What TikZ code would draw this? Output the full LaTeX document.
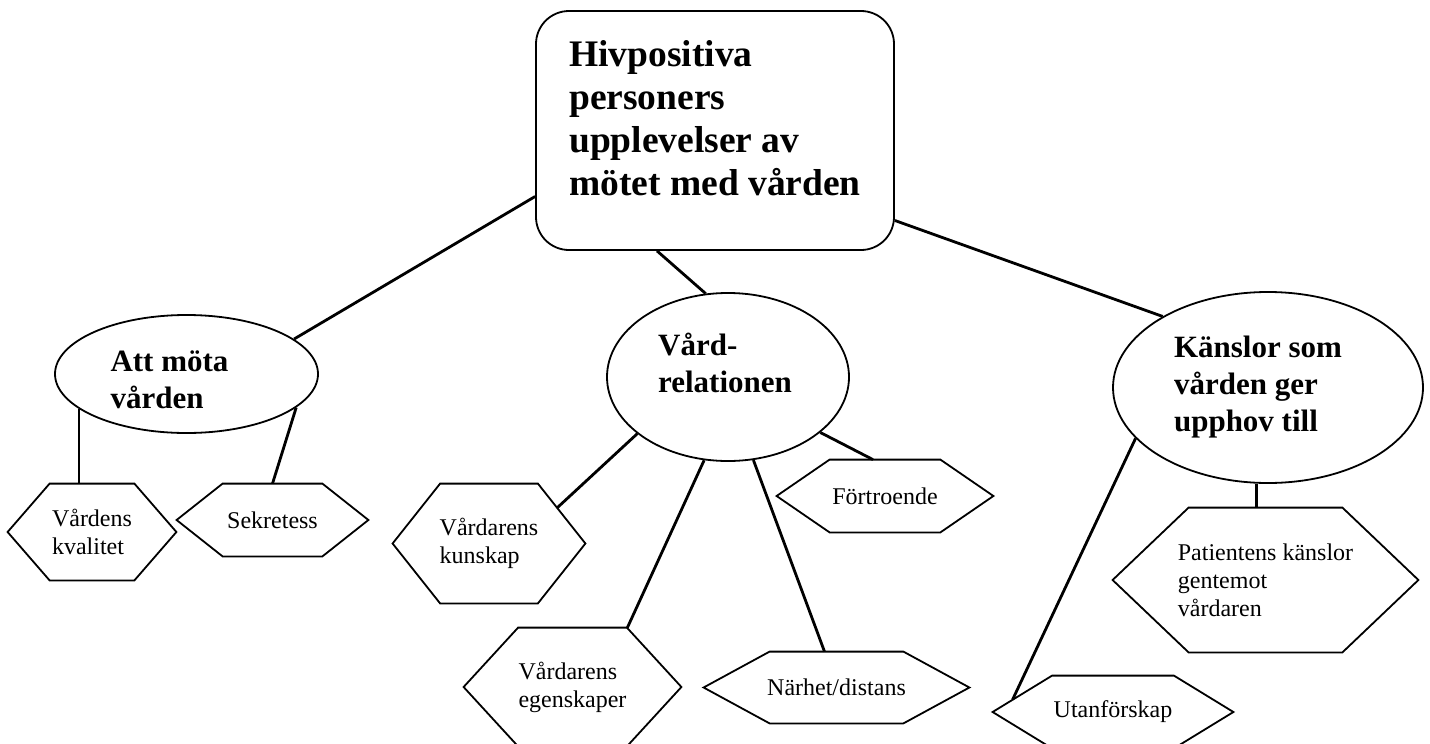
\documentclass[tikz,border=0pt]{standalone}
\usepackage{fontspec}
\setmainfont{Liberation Serif}
\usetikzlibrary{shapes.geometric}

% outline of a stretched hexagon round a (rectangular) node; #2 = width of the slanted part
\newcommand{\hexagon}[2]{%
  \draw[hex_line] (#1.west) -- ([xshift=#2]#1.north west) -- ([xshift=-#2]#1.north east)
    -- (#1.east) -- ([xshift=-#2]#1.south east) -- ([xshift=#2]#1.south west) -- cycle;}

\begin{document}
\begin{tikzpicture}[
                    x=0.5pt, y=-0.5pt,
                    root_box/.style={rectangle, rounded corners=16.5pt, draw=black, line width=0.9pt, inner sep=0pt},
                    root_text/.style={inner sep=0pt, align=left, font=\fontsize{18.75}{21.5}\selectfont\bfseries},
                    theme_node/.style={ellipse, draw=black, line width=0.9pt, inner sep=0pt},
                    theme_text/.style={inner sep=0pt, align=left, font=\fontsize{15.5}{18.5}\selectfont\bfseries},
                    sub_node/.style={rectangle, inner sep=0pt, align=left, font=\fontsize{12}{14}\selectfont},
                    hex_line/.style={draw=black, line width=0.9pt},
                    link_line/.style={draw=black, line width=1.4pt}
                ]
                    \path[use as bounding box, fill=white] (0,0) rectangle (1430,744);

                    % main theme
                    \node[root_box, minimum width=179pt, minimum height=119.5pt] (root) at (715,130.5) {};
                    \node[root_text] (root_title) at ([yshift=6pt]root.center) {Hivpositiva\\personers\\upplevelser av\\mötet med vården};

                    % themes
                    \node[theme_node, minimum width=131.5pt, minimum height=59pt] (att) at (186.5,374) {};
                    \node[theme_text] (att_text) at ([xshift=-8.5pt, yshift=-3pt]att.center) {Att möta\\vården};
                    \node[theme_node, minimum width=121pt, minimum height=84pt] (vard) at (728,377) {};
                    \node[theme_text] (vard_text) at ([xshift=-1.5pt, yshift=7pt]vard.center) {Vård-\\relationen};
                    \node[theme_node, minimum width=155pt, minimum height=95.5pt] (kansl) at (1268,387.5) {};
                    \node[theme_text] (kansl_text) at ([xshift=-5pt]kansl.center) {Känslor som\\vården ger\\upphov till};

                    % sub-themes
                    \node[sub_node, minimum width=84pt, minimum height=48pt] (kval) at (92,532) {Vårdens\\kvalitet};
                    \node[sub_node, minimum width=95.5pt, minimum height=36pt] (sekr) at (272.5,520) {Sekretess};
                    \node[sub_node, minimum width=96pt, minimum height=59.5pt] (kunsk) at (489,543.5) {Vårdarens\\kunskap};
                    \node[sub_node, minimum width=108.5pt, minimum height=59pt] (egensk) at (572.5,687) {Vårdarens\\egenskaper};
                    \node[sub_node, minimum width=108pt, minimum height=36pt] (fortr) at (885,496) {Förtroende};
                    \node[sub_node, minimum width=132.5pt, minimum height=35.5pt] (narh) at (836.5,687.5) {Närhet/distans};
                    \node[sub_node, minimum width=152.5pt, minimum height=72pt] (patient) at (1265.5,580) {Patientens känslor\\gentemot\\vårdaren};
                    \node[sub_node, minimum width=120pt, minimum height=36pt] (utanf) at (1113,712) {Utanförskap};

                    \hexagon{kval}{21pt}
                    \hexagon{sekr}{23pt}
                    \hexagon{kunsk}{23.75pt}
                    \hexagon{egensk}{27.25pt}
                    \hexagon{fortr}{26.5pt}
                    \hexagon{narh}{33pt}
                    \hexagon{patient}{38pt}
                    \hexagon{utanf}{29.75pt}

                    % links
                    \draw[link_line] ([yshift=-33pt]root.west) -- (att.18);
                    \draw[link_line] ([xshift=-29pt]root.south) -- (vard.105);
                    \draw[link_line] ([yshift=-45pt]root.east) -- (kansl.146);
                    \draw[link_line] (att.198) -- (att.198 |- kval.north);
                    \draw[link_line] (att.-17) -- (sekr.north);
                    \draw[link_line] (vard.212) -- ([xshift=-14pt, yshift=-12pt]kunsk.north east);
                    \draw[link_line] (vard.254) -- ([xshift=-27pt]egensk.north east);
                    \draw[link_line] (vard.287) -- ([xshift=-6pt]narh.north);
                    \draw[link_line] (vard.-31) -- ([xshift=-6pt]fortr.north);
                    \draw[link_line] (kansl.263) -- (kansl.263 |- patient.north);
                    \draw[link_line] (kansl.201) -- ([xshift=10pt, yshift=-12pt]utanf.north west);
                \end{tikzpicture}
\end{document}
